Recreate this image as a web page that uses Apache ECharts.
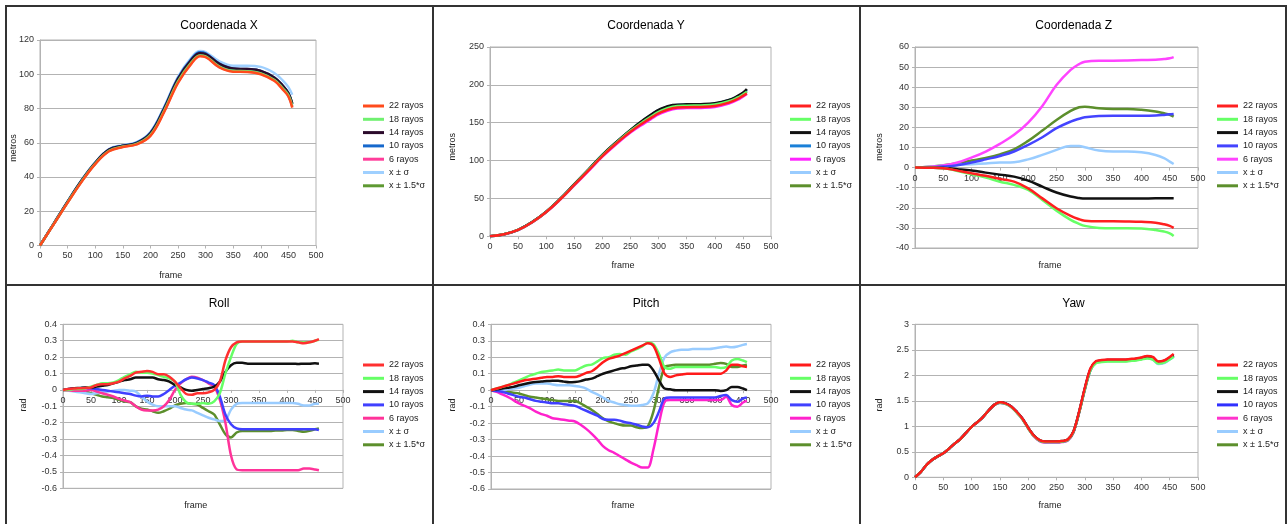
<!DOCTYPE html>
<html>
<head>
<meta charset="utf-8">
<script src="https://cdn.jsdelivr.net/npm/echarts@6/dist/echarts.min.js"></script>
<style>
  html, body { margin: 0; padding: 0; background: #fff; }
  #page { position: relative; width: 1288px; height: 524px; overflow: hidden; background: #fff; }
  .panel { position: absolute; }
  .rule { position: absolute; background: #333; z-index: 5; }
</style>
</head>
<body>
<div id="page">
  <div class="panel" id="p1" style="left:0;top:0;width:433px;height:285px"></div>
  <div class="panel" id="p2" style="left:433px;top:0;width:427px;height:285px"></div>
  <div class="panel" id="p3" style="left:860px;top:0;width:428px;height:285px"></div>
  <div class="panel" id="p4" style="left:0;top:285px;width:433px;height:239px"></div>
  <div class="panel" id="p5" style="left:433px;top:285px;width:427px;height:239px"></div>
  <div class="panel" id="p6" style="left:860px;top:285px;width:428px;height:239px"></div>
  <!-- frame lines between the six panels -->
  <div class="rule" style="left:5px;top:5px;width:1282px;height:2px"></div>
  <div class="rule" style="left:5px;top:284px;width:1282px;height:2px"></div>
  <div class="rule" style="left:5px;top:5px;width:2px;height:519px"></div>
  <div class="rule" style="left:432px;top:5px;width:2px;height:519px"></div>
  <div class="rule" style="left:859px;top:5px;width:2px;height:519px"></div>
  <div class="rule" style="left:1285px;top:5px;width:2px;height:519px"></div>
</div>
<script>
// ---- series labels ----
const seriesNames = ['22 rayos', '18 rayos', '14 rayos', '10 rayos', '6 rayos', 'x ± σ', 'x ± 1.5*σ'];

// ---- frames sampled for the position curves ----
const framesXYZ = [0, 25, 50, 75, 100, 125, 150, 175, 200, 225, 250, 275, 290, 300, 325, 350, 375, 400, 425, 440, 450, 457];

// ---- frames sampled for the angle curves ----
const framesAng = [0, 10, 20, 30, 40, 50, 60, 70, 80, 90,
  100, 110, 120, 130, 140, 150, 160, 170, 180, 190,
  200, 210, 220, 230, 240, 250, 260, 270, 280, 290,
  300, 310, 320, 330, 340, 350, 360, 370, 380, 390,
  400, 410, 420, 430, 440, 450, 457];

// ---- Coordenada X (metros) ----
const cx22  = [0, 12.5, 25, 37, 47.5, 55, 57.5, 59, 64, 78, 95, 106.5, 110.5, 110, 104, 101.5, 101.3, 100, 96, 91, 87, 80.5];
const cx18  = [0, 12.6, 25.2, 37.3, 47.8, 55.3, 57.8, 59.3, 64.6, 78.8, 95.8, 107.2, 111, 110.5, 104.5, 102, 101.8, 100.5, 96.6, 91.8, 87.8, 81.5];
const cx14  = [0, 12.8, 25.6, 37.8, 48.3, 56, 58.2, 59.8, 65.5, 80, 97.3, 108.7, 112.3, 111.8, 106, 103.3, 103, 102, 98, 93.3, 89, 83];
const cx10  = [0, 12.8, 25.6, 37.8, 48.3, 56, 58.3, 60, 65.8, 80.4, 97.8, 109.2, 112.8, 112.2, 106.2, 103.3, 103, 102, 98, 93.2, 88.8, 82.5];
const cx6   = [0, 12.6, 25.1, 37.2, 47.7, 55.2, 57.7, 59.2, 64.3, 78.4, 95.4, 106.8, 110.8, 110.3, 104.2, 101.8, 101.6, 100.3, 96.3, 91.4, 87.4, 81];
const cxS1  = [0, 12.9, 25.8, 38, 48.5, 56.3, 58.6, 60.3, 66.3, 81, 98.5, 110, 113.6, 113, 107.5, 105, 105, 104.3, 100.6, 96.3, 92.5, 88];
const cxS15 = [0, 12.7, 25.4, 37.5, 48, 55.6, 58, 59.6, 65, 79.3, 96.5, 108, 111.7, 111.2, 105.3, 102.6, 102.3, 101.2, 97.3, 92.7, 88.5, 82.5];

// ---- Coordenada Y (metros) ----
const cy22  = [0, 2.6, 8.4, 18.5, 32, 48.9, 67.8, 86.7, 106, 122.8, 138.2, 151, 158, 162.4, 169, 170.5, 170.8, 172, 176.5, 181, 185.5, 188.8];
const cy18  = [0, 2.6, 8.5, 18.6, 32.2, 49.2, 68.2, 87.3, 106.7, 123.6, 139.3, 152.6, 159.8, 164.3, 171, 172.5, 172.8, 174, 178.3, 183, 187.3, 190.8];
const cy14  = [0, 2.7, 8.6, 18.8, 32.5, 49.6, 68.8, 88, 107.6, 124.6, 140.5, 154.8, 162.5, 167, 173.3, 174.3, 174.5, 175.6, 180, 185, 189.5, 194.5];
const cy10  = [0, 2.7, 8.6, 18.8, 32.4, 49.5, 68.6, 87.8, 107.4, 124.4, 140.2, 154.4, 162, 166.5, 172.8, 173.9, 174.1, 175.2, 179.6, 184.6, 189, 193.8];
const cy6   = [0, 2.5, 8.2, 18.2, 31.6, 48.4, 67.2, 86, 105.2, 121.8, 137, 149.5, 156.5, 161, 167.8, 169.3, 169.6, 170.8, 175.3, 180, 184.5, 188];
const cyS1  = [0, 2.6, 8.5, 18.6, 32.2, 49.2, 68.2, 87.2, 106.6, 123.4, 139, 152.4, 159.6, 164, 170.7, 172.2, 172.5, 173.7, 178, 182.7, 187, 190.5];
const cyS15 = [0, 2.6, 8.5, 18.7, 32.3, 49.3, 68.4, 87.5, 107, 123.9, 139.6, 153.2, 160.5, 165, 171.8, 173.2, 173.5, 174.7, 179, 183.8, 188.2, 192];

// ---- Coordenada Z (metros) ----
const cz22  = [0, -0.1, -0.3, -1.5, -2.8, -4.1, -5.6, -7, -10.3, -15.3, -20.2, -24, -25.7, -26.4, -26.7, -26.7, -26.8, -27, -27.4, -28.2, -29, -30];
const cz18  = [0, -0.1, -0.3, -1.7, -3.3, -5, -7, -8.6, -11.1, -16.1, -21.4, -26, -28, -29, -30, -30.2, -30.2, -30.3, -31, -31.8, -32.7, -34];
const cz14  = [0, -0.05, -0.2, -0.8, -1.5, -2.5, -3.5, -4.5, -6.5, -9.5, -12.4, -14.4, -15.1, -15.4, -15.4, -15.4, -15.4, -15.4, -15.3, -15.3, -15.3, -15.3];
const cz10  = [0, 0.1, 0.5, 1.2, 2.5, 4.1, 5.8, 8, 11.3, 15.1, 19.6, 22.9, 24.3, 25, 25.7, 25.8, 25.8, 25.8, 25.9, 26.2, 26.5, 26.7];
const cz6   = [0, 0.3, 1, 2.5, 5, 8, 11.8, 16.3, 22.4, 30.7, 41.1, 48.6, 51.5, 52.7, 53.2, 53.2, 53.3, 53.5, 53.6, 54, 54.4, 55];
const czS1  = [0, 0.4, 1, 1.4, 1.7, 2.1, 2.5, 2.7, 4.1, 6.3, 8.8, 10.8, 10.7, 10.1, 8.5, 8, 8, 7.6, 6.3, 4.7, 3, 1.8];
const czS15 = [0, 0.4, 1.2, 2.2, 3.5, 4.8, 6.6, 9.1, 13.3, 18.4, 23.7, 28.2, 30, 30.3, 29.5, 29.2, 29.2, 28.8, 27.9, 27, 26.3, 25.4];

// ---- Roll (rad) ----
const roll22 = [0, 0.005, 0.008, 0.01, 0.012, 0.015, 0.03, 0.035, 0.035, 0.04,
  0.05, 0.07, 0.085, 0.105, 0.11, 0.115, 0.11, 0.095, 0.095, 0.08,
  0.05, 0.01, -0.025, -0.03, -0.02, -0.02, -0.015, 0.0, 0.05, 0.18,
  0.26, 0.29, 0.295, 0.295, 0.295, 0.295, 0.295, 0.295, 0.295, 0.295,
  0.295, 0.295, 0.29, 0.285, 0.29, 0.3, 0.31];
const roll18 = [0, 0, 0.005, 0.005, 0.01, 0.02, 0.03, 0.04, 0.04, 0.045,
  0.06, 0.08, 0.095, 0.11, 0.105, 0.105, 0.1, 0.09, 0.08, 0.07,
  0.05, -0.03, -0.075, -0.085, -0.085, -0.08, -0.085, -0.07, -0.02, 0.1,
  0.2, 0.28, 0.295, 0.295, 0.295, 0.295, 0.295, 0.295, 0.295, 0.295,
  0.295, 0.3, 0.29, 0.29, 0.29, 0.3, 0.305];
const roll14 = [0, 0.005, 0.01, 0.012, 0.015, 0.015, 0.02, 0.025, 0.03, 0.04,
  0.05, 0.06, 0.065, 0.075, 0.075, 0.075, 0.075, 0.065, 0.06, 0.05,
  0.03, 0.015, 0.0, -0.005, 0.0, 0.005, 0.01, 0.02, 0.05, 0.11,
  0.15, 0.165, 0.165, 0.16, 0.16, 0.16, 0.16, 0.16, 0.16, 0.16,
  0.16, 0.16, 0.158, 0.16, 0.16, 0.162, 0.16];
const roll10 = [0, 0.005, 0.01, 0.01, 0.012, 0.01, 0.005, 0.0, -0.005, -0.01,
  -0.015, -0.02, -0.025, -0.035, -0.04, -0.035, -0.04, -0.04, -0.025, 0.0,
  0.025, 0.045, 0.065, 0.075, 0.07, 0.06, 0.045, 0.03, -0.04, -0.15,
  -0.21, -0.235, -0.24, -0.24, -0.24, -0.24, -0.24, -0.24, -0.24, -0.24,
  -0.24, -0.24, -0.24, -0.24, -0.24, -0.24, -0.245];
const roll6 = [0, -0.002, -0.005, -0.005, -0.005, 0.0, -0.01, -0.02, -0.03, -0.04,
  -0.055, -0.065, -0.075, -0.1, -0.12, -0.125, -0.125, -0.12, -0.1, -0.06,
  0.0, 0.04, 0.065, 0.08, 0.075, 0.06, 0.04, 0.02, -0.06, -0.2,
  -0.4, -0.485, -0.49, -0.49, -0.49, -0.49, -0.49, -0.49, -0.49, -0.49,
  -0.49, -0.49, -0.49, -0.48, -0.48, -0.485, -0.49];
const rollS1 = [0, -0.005, -0.01, -0.015, -0.02, -0.025, -0.02, -0.015, -0.01, -0.005,
  0.0, 0.0, -0.005, -0.01, -0.04, -0.07, -0.09, -0.1, -0.1, -0.1,
  -0.1, -0.11, -0.12, -0.125, -0.14, -0.155, -0.17, -0.18, -0.19, -0.185,
  -0.12, -0.085, -0.08, -0.08, -0.08, -0.08, -0.08, -0.08, -0.08, -0.08,
  -0.08, -0.08, -0.085, -0.095, -0.095, -0.085, -0.085];
const rollS15 = [0, 0.0, 0.0, -0.005, -0.01, -0.02, -0.03, -0.04, -0.045, -0.05,
  -0.06, -0.07, -0.075, -0.1, -0.115, -0.12, -0.13, -0.14, -0.13, -0.115,
  -0.095, -0.085, -0.08, -0.085, -0.09, -0.11, -0.13, -0.15, -0.21, -0.27,
  -0.29, -0.26, -0.25, -0.25, -0.25, -0.25, -0.25, -0.25, -0.248, -0.248,
  -0.245, -0.245, -0.25, -0.255, -0.25, -0.24, -0.235];

// ---- Pitch (rad) ----
const pitch22 = [0, 0.01, 0.02, 0.03, 0.04, 0.05, 0.06, 0.065, 0.07, 0.075,
  0.08, 0.08, 0.085, 0.08, 0.08, 0.08, 0.09, 0.105, 0.115, 0.14,
  0.17, 0.19, 0.2, 0.21, 0.225, 0.24, 0.255, 0.27, 0.285, 0.27,
  0.19, 0.1, 0.08, 0.09, 0.095, 0.1, 0.1, 0.1, 0.1, 0.1,
  0.1, 0.1, 0.12, 0.155, 0.155, 0.145, 0.14];
const pitch18 = [0, 0.01, 0.02, 0.03, 0.045, 0.06, 0.075, 0.09, 0.1, 0.11,
  0.115, 0.12, 0.125, 0.12, 0.12, 0.12, 0.135, 0.15, 0.155, 0.175,
  0.195, 0.2, 0.215, 0.22, 0.215, 0.235, 0.25, 0.265, 0.29, 0.28,
  0.22, 0.14, 0.13, 0.14, 0.14, 0.14, 0.14, 0.14, 0.14, 0.14,
  0.14, 0.135, 0.14, 0.18, 0.19, 0.18, 0.17];
const pitch14 = [0, 0.005, 0.01, 0.015, 0.02, 0.03, 0.038, 0.045, 0.05, 0.052,
  0.055, 0.057, 0.058, 0.052, 0.048, 0.05, 0.055, 0.065, 0.07, 0.085,
  0.1, 0.11, 0.12, 0.13, 0.135, 0.145, 0.15, 0.155, 0.155, 0.12,
  0.06, 0.01, 0.005, 0.0, 0.0, 0.0, 0.0, 0.0, 0.0, 0.0,
  0.0, -0.005, 0.0, 0.02, 0.02, 0.01, 0.0];
const pitch10 = [0, -0.005, -0.01, -0.02, -0.03, -0.04, -0.045, -0.055, -0.065, -0.07,
  -0.075, -0.08, -0.08, -0.085, -0.09, -0.095, -0.11, -0.125, -0.14, -0.155,
  -0.175, -0.18, -0.18, -0.185, -0.195, -0.2, -0.21, -0.22, -0.225, -0.2,
  -0.13, -0.05, -0.045, -0.045, -0.045, -0.045, -0.045, -0.045, -0.045, -0.045,
  -0.045, -0.035, -0.03, -0.06, -0.07, -0.05, -0.045];
const pitch6 = [0, -0.01, -0.025, -0.04, -0.06, -0.08, -0.095, -0.11, -0.13, -0.145,
  -0.155, -0.17, -0.175, -0.18, -0.185, -0.19, -0.21, -0.235, -0.265, -0.3,
  -0.34, -0.365, -0.38, -0.4, -0.42, -0.44, -0.455, -0.47, -0.47, -0.36,
  -0.2, -0.07, -0.06, -0.06, -0.06, -0.06, -0.06, -0.06, -0.06, -0.06,
  -0.06, -0.06, -0.04, -0.09, -0.1, -0.075, -0.065];
const pitchS1 = [0, 0.0, 0.0, 0.005, 0.01, 0.015, 0.025, 0.035, 0.04, 0.04,
  0.04, 0.035, 0.03, 0.03, 0.03, 0.025, 0.02, 0.01, -0.01, -0.025,
  -0.045, -0.065, -0.075, -0.085, -0.09, -0.095, -0.095, -0.09, -0.08, -0.02,
  0.1, 0.2, 0.23, 0.24, 0.245, 0.245, 0.25, 0.25, 0.25, 0.25,
  0.255, 0.26, 0.265, 0.26, 0.265, 0.275, 0.28];
const pitchS15 = [0, 0.0, -0.005, -0.01, -0.015, -0.02, -0.03, -0.04, -0.045, -0.05,
  -0.055, -0.06, -0.065, -0.065, -0.065, -0.065, -0.08, -0.1, -0.12, -0.145,
  -0.17, -0.19, -0.2, -0.21, -0.215, -0.215, -0.225, -0.23, -0.22, -0.13,
  0.02, 0.14, 0.15, 0.155, 0.155, 0.155, 0.155, 0.155, 0.155, 0.155,
  0.16, 0.165, 0.16, 0.14, 0.14, 0.15, 0.155];

// ---- Yaw (rad) ----
const yaw22 = [0, 0.1, 0.24, 0.34, 0.41, 0.47, 0.56, 0.66, 0.75, 0.87,
  0.99, 1.08, 1.18, 1.31, 1.42, 1.47, 1.45, 1.39, 1.28, 1.15,
  0.97, 0.82, 0.73, 0.7, 0.7, 0.7, 0.71, 0.74, 0.9, 1.29,
  1.75, 2.14, 2.28, 2.3, 2.31, 2.31, 2.31, 2.31, 2.32, 2.33,
  2.35, 2.38, 2.36, 2.27, 2.29, 2.36, 2.42];
const yaw18 = [0, 0.1, 0.24, 0.34, 0.41, 0.47, 0.56, 0.66, 0.75, 0.87,
  0.99, 1.08, 1.18, 1.31, 1.42, 1.46, 1.44, 1.38, 1.27, 1.14,
  0.96, 0.81, 0.72, 0.69, 0.69, 0.69, 0.7, 0.73, 0.89, 1.27,
  1.72, 2.1, 2.24, 2.26, 2.27, 2.27, 2.27, 2.27, 2.28, 2.29,
  2.31, 2.33, 2.31, 2.23, 2.25, 2.31, 2.37];
const yaw14 = [0, 0.1, 0.24, 0.34, 0.41, 0.47, 0.56, 0.66, 0.75, 0.87,
  0.99, 1.08, 1.18, 1.31, 1.42, 1.47, 1.45, 1.39, 1.28, 1.15,
  0.97, 0.82, 0.73, 0.7, 0.7, 0.7, 0.71, 0.74, 0.9, 1.28,
  1.74, 2.12, 2.27, 2.29, 2.3, 2.3, 2.3, 2.3, 2.31, 2.32,
  2.34, 2.37, 2.35, 2.26, 2.28, 2.34, 2.39];
const yaw10 = [0, 0.1, 0.24, 0.34, 0.41, 0.47, 0.56, 0.66, 0.75, 0.87,
  0.99, 1.08, 1.18, 1.31, 1.42, 1.46, 1.45, 1.39, 1.28, 1.15,
  0.97, 0.82, 0.72, 0.69, 0.69, 0.69, 0.7, 0.73, 0.89, 1.28,
  1.73, 2.11, 2.26, 2.28, 2.29, 2.29, 2.29, 2.29, 2.3, 2.31,
  2.33, 2.36, 2.34, 2.25, 2.27, 2.33, 2.38];
const yaw6 = [0, 0.1, 0.24, 0.34, 0.41, 0.47, 0.56, 0.66, 0.75, 0.87,
  0.99, 1.08, 1.18, 1.31, 1.42, 1.46, 1.44, 1.38, 1.27, 1.14,
  0.96, 0.8, 0.71, 0.68, 0.68, 0.68, 0.69, 0.72, 0.88, 1.27,
  1.73, 2.12, 2.27, 2.29, 2.3, 2.3, 2.3, 2.3, 2.31, 2.32,
  2.34, 2.37, 2.35, 2.26, 2.28, 2.35, 2.4];
const yawS1 = [0, 0.1, 0.24, 0.34, 0.41, 0.47, 0.56, 0.66, 0.75, 0.87,
  0.99, 1.08, 1.18, 1.31, 1.42, 1.46, 1.44, 1.38, 1.27, 1.14,
  0.96, 0.81, 0.72, 0.69, 0.69, 0.69, 0.7, 0.73, 0.89, 1.27,
  1.72, 2.1, 2.25, 2.27, 2.28, 2.28, 2.28, 2.28, 2.29, 2.3,
  2.32, 2.34, 2.31, 2.22, 2.24, 2.31, 2.36];
const yawS15 = [0, 0.1, 0.24, 0.34, 0.41, 0.47, 0.56, 0.66, 0.75, 0.87,
  0.99, 1.08, 1.18, 1.31, 1.42, 1.46, 1.44, 1.38, 1.27, 1.14,
  0.96, 0.81, 0.72, 0.69, 0.69, 0.69, 0.7, 0.73, 0.89, 1.27,
  1.72, 2.1, 2.25, 2.27, 2.28, 2.28, 2.28, 2.28, 2.29, 2.3,
  2.32, 2.35, 2.32, 2.23, 2.25, 2.32, 2.37];

// ---- tick label format for fractional axes ----
const oneDecimal = v => String(Number(v.toFixed(1)));

const FONT = 'Liberation Sans';
const GRID_GRAY = '#b3b3b3';

function buildPanel(id, cfg) {
  const chart = echarts.init(document.getElementById(id), null, { renderer: 'canvas' });
  const series = cfg.values.map((vals, i) => ({
    name: seriesNames[i],
    type: 'line',
    data: cfg.frames.map((f, k) => [f, vals[k]]),
    symbol: 'none',
    showSymbol: false,
    smooth: cfg.smooth,
    z: 10 - i,
    lineStyle: { width: 2.5, color: cfg.colors[i] },
    itemStyle: { color: cfg.colors[i] },
    emphasis: { disabled: true }
  }));
  const textEl = (x, y, text, size, fill, rot) => ({
    type: 'text', x: x, y: y, rotation: rot || 0, silent: true,
    style: {
      text: text, fontSize: size, fontFamily: FONT, fill: fill,
      align: 'center', verticalAlign: 'middle',
      textAlign: 'center', textVerticalAlign: 'middle'
    }
  });
  // the frame axis sits on the value-0 line: shift it up from the grid bottom
  const plotH = cfg.grid[3];
  const zeroShift = cfg.yMin < 0 ? -plotH * (0 - cfg.yMin) / (cfg.yMax - cfg.yMin) : 0;
  chart.setOption({
    animation: false,
    backgroundColor: '#fff',
    textStyle: { fontFamily: FONT },
    grid: {
      left: cfg.grid[0], top: cfg.grid[1], width: cfg.grid[2], height: cfg.grid[3],
      show: true, borderColor: GRID_GRAY, borderWidth: 1, backgroundColor: 'transparent'
    },
    xAxis: {
      type: 'value', min: 0, max: 500, interval: 50,
      position: 'bottom', offset: zeroShift,
      axisLine: { show: true, onZero: false, lineStyle: { color: GRID_GRAY, width: 1 } },
      axisTick: { show: true, length: 3, lineStyle: { color: GRID_GRAY } },
      axisLabel: { fontSize: 9, color: '#333', margin: 6, fontFamily: FONT },
      splitLine: { show: false }
    },
    yAxis: {
      type: 'value', min: cfg.yMin, max: cfg.yMax, interval: cfg.yStep,
      axisLine: { show: true, lineStyle: { color: GRID_GRAY, width: 1 } },
      axisTick: { show: true, length: 3, lineStyle: { color: GRID_GRAY } },
      axisLabel: { fontSize: 9, color: '#333', margin: 6, fontFamily: FONT, formatter: cfg.yFormat },
      splitLine: { show: true, lineStyle: { color: GRID_GRAY, width: 1 } }
    },
    legend: {
      orient: 'vertical',
      left: cfg.legend[0], top: cfg.legend[1],
      padding: 0, itemGap: 3.3, itemWidth: 21, itemHeight: 3,
      icon: 'rect', selectedMode: false,
      data: seriesNames,
      textStyle: { fontSize: 9, color: '#222', lineHeight: 10, fontFamily: FONT }
    },
    graphic: [
      textEl(cfg.titlePos[0], cfg.titlePos[1], cfg.title, 12, '#000'),
      textEl(cfg.yNamePos[0], cfg.yNamePos[1], cfg.yName, 9, '#222', Math.PI / 2),
      textEl(cfg.xNamePos[0], cfg.xNamePos[1], 'frame', 9, '#222')
    ],
    series: series
  });
}

buildPanel('p1', {
  title: 'Coordenada X', titlePos: [219, 25.5],
  yName: 'metros', yNamePos: [13.5, 148], xNamePos: [170.7, 275.3],
  grid: [40, 40, 276, 205.5], legend: [363, 101],
  yMin: 0, yMax: 120, yStep: 20,
  frames: framesXYZ, smooth: 0.4,
  values: [cx22, cx18, cx14, cx10, cx6, cxS1, cxS15],
  colors: ['#ff4b1c', '#70f070', '#2b0a2b', '#1668cc', '#ff3d9a', '#9fd0ff', '#5e9932']
});

buildPanel('p2', {
  title: 'Coordenada Y', titlePos: [213, 25.7],
  yName: 'metros', yNamePos: [19.7, 146.7], xNamePos: [190, 265.7],
  grid: [57, 47, 281, 189.3], legend: [357, 101],
  yMin: 0, yMax: 250, yStep: 50,
  frames: framesXYZ, smooth: 0.4,
  values: [cy22, cy18, cy14, cy10, cy6, cyS1, cyS15],
  colors: ['#ff2020', '#66ff66', '#111111', '#1a80d8', '#ff22ff', '#99ccff', '#5c8f2c']
});

buildPanel('p3', {
  title: 'Coordenada Z', titlePos: [213.7, 25.7],
  yName: 'metros', yNamePos: [19.3, 147], xNamePos: [190, 265.7],
  grid: [55, 47, 283, 201], legend: [357, 101],
  yMin: -40, yMax: 60, yStep: 10,
  frames: framesXYZ, smooth: 0.4,
  values: [cz22, cz18, cz14, cz10, cz6, czS1, czS15],
  colors: ['#ff2020', '#66ff66', '#111111', '#4444ff', '#ff44ff', '#99ccff', '#5c8f2c']
});

buildPanel('p4', {
  title: 'Roll', titlePos: [219, 19],
  yName: 'rad', yNamePos: [23.3, 120], xNamePos: [195.7, 220.7],
  grid: [63, 39.3, 280, 164], legend: [363, 75],
  yMin: -0.6, yMax: 0.4, yStep: 0.1, yFormat: oneDecimal,
  frames: framesAng, smooth: 0.3,
  values: [roll22, roll18, roll14, roll10, roll6, rollS1, rollS15],
  colors: ['#ff3030', '#66ff66', '#111111', '#4040ff', '#ff3399', '#99ccff', '#5c8f2c']
});

buildPanel('p5', {
  title: 'Pitch', titlePos: [213, 19],
  yName: 'rad', yNamePos: [19.7, 120], xNamePos: [190, 220.7],
  grid: [58, 39.3, 280, 164.7], legend: [357, 75],
  yMin: -0.6, yMax: 0.4, yStep: 0.1, yFormat: oneDecimal,
  frames: framesAng, smooth: 0.3,
  values: [pitch22, pitch18, pitch14, pitch10, pitch6, pitchS1, pitchS15],
  colors: ['#ff1a1a', '#66ff66', '#111111', '#4040ff', '#ff22cc', '#99ccff', '#5c8f2c']
});

buildPanel('p6', {
  title: 'Yaw', titlePos: [213.5, 19],
  yName: 'rad', yNamePos: [19.3, 120], xNamePos: [190, 220.7],
  grid: [55, 39.3, 283, 153], legend: [357, 75],
  yMin: 0, yMax: 3, yStep: 0.5, yFormat: oneDecimal,
  frames: framesAng, smooth: 0.3,
  values: [yaw22, yaw18, yaw14, yaw10, yaw6, yawS1, yawS15],
  colors: ['#ff1a1a', '#66ff66', '#111111', '#3030ff', '#ff33cc', '#99ccff', '#5c8f2c']
});
</script>
</body>
</html>
